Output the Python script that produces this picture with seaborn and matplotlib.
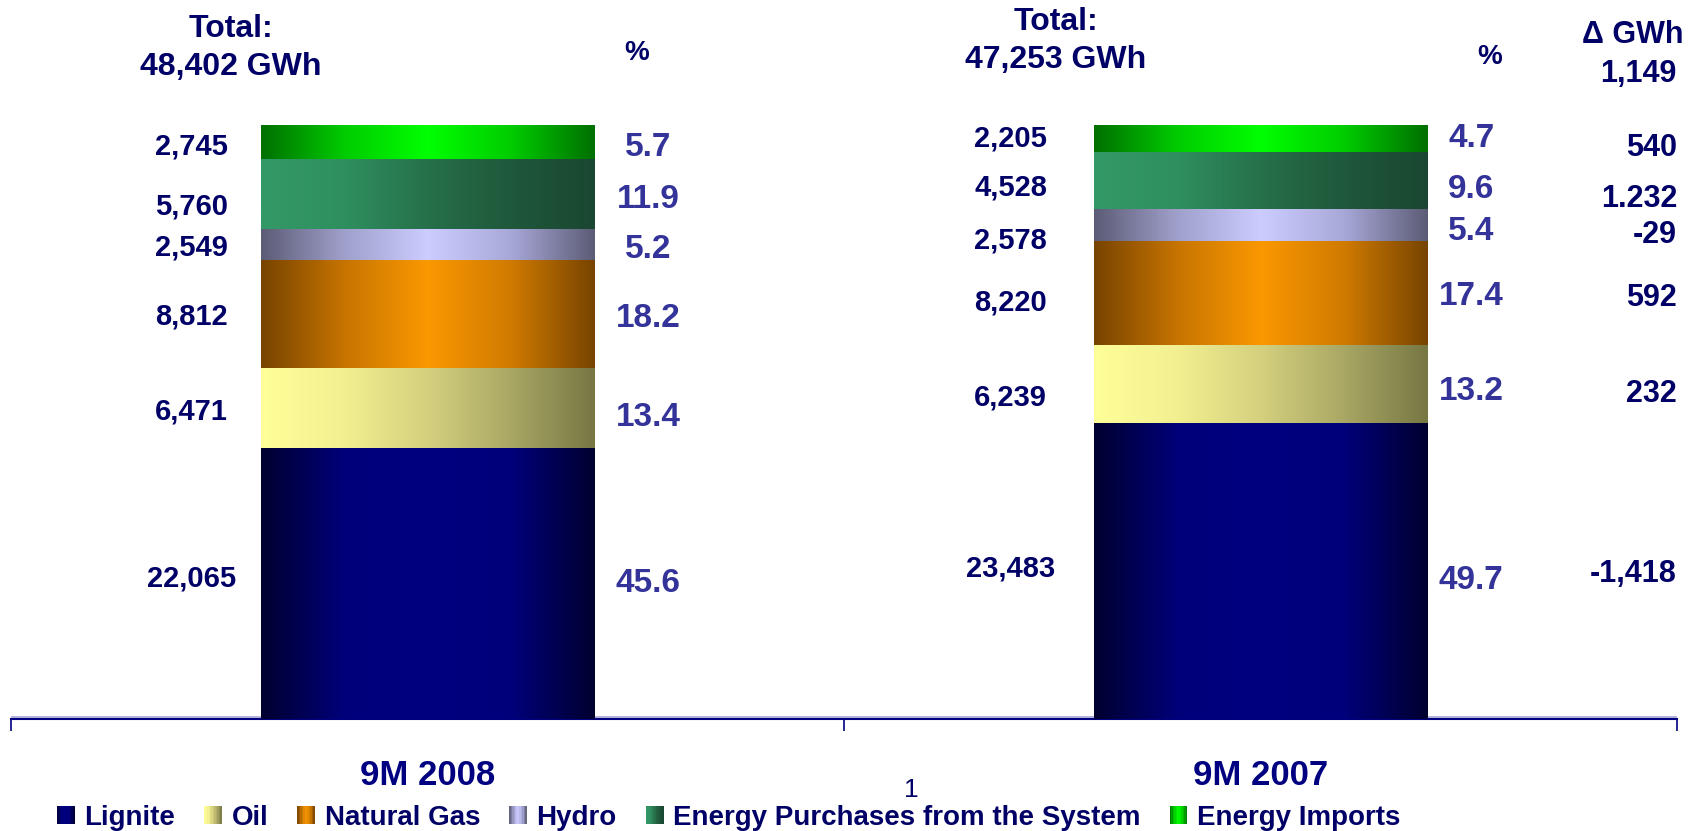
import numpy as np
import pandas as pd
import matplotlib
matplotlib.use("Agg")
import matplotlib.pyplot as plt
from matplotlib.colors import LinearSegmentedColormap
from matplotlib.legend_handler import HandlerBase
from matplotlib.patches import Rectangle, Patch
import seaborn as sns

# data
periods = ["9M 2008", "9M 2007"]
sources = ["Lignite", "Oil", "Natural Gas", "Hydro",
           "Energy Purchases from the System", "Energy Imports"]
gwh_2008 = [22065, 6471, 8812, 2549, 5760, 2745]
gwh_2007 = [23483, 6239, 8220, 2578, 4528, 2205]
pct_2008 = [45.6, 13.4, 18.2, 5.2, 11.9, 5.7]
pct_2007 = [49.7, 13.2, 17.4, 5.4, 9.6, 4.7]
delta_labels = ["-1,418", "232", "592", "-29", "1.232", "540"]

# gradient stops per source (left -> right across the bar)
grad_stops = {
    "Lignite": ["#000030", "#00007a", "#000080", "#00007a", "#000030"],
    "Oil": ["#ffff99", "#f2ef90", "#d4d07e", "#a9a764", "#777744"],
    "Natural Gas": ["#774400", "#c77400", "#fa9800", "#d07a00", "#774400"],
    "Hydro": ["#5c5c76", "#a0a0cc", "#ccccff", "#a8a8d8", "#5c5c76"],
    "Energy Purchases from the System": ["#339966", "#2f8f5f", "#26704a", "#1f583b", "#1a4731"],
    "Energy Imports": ["#007000", "#00cc00", "#00ff00", "#00cc00", "#007000"],
}
cmaps = {s: LinearSegmentedColormap.from_list(s, c) for s, c in grad_stops.items()}

# hand nudges of the label rows (in y data units, per source bottom -> top)
nudge_left = [[0.9, -0.5, -0.4, -0.4, -2.0, -0.7], [0.5, -2.2, -1.5, -2.4, -1.1, 0.0]]
nudge_pct = [[0.0, -1.5, -0.7, -0.7, -0.9, -0.9], [-1.6, -1.1, -0.5, -0.9, -1.3, 0.0]]
nudge_delta = [-0.4, -1.6, -0.7, -1.6, -2.9, -1.5]

NAVY = "#000066"
PCT_COLOR = "#333399"

sns.set_theme(style="white")
plt.rcParams["font.family"] = ["Liberation Sans", "DejaVu Sans"]
plt.rcParams["font.weight"] = "bold"

df = pd.DataFrame({
    "period": np.repeat(periods, len(sources)),
    "source": sources * 2,
    "gwh": gwh_2008 + gwh_2007,
    "pct": pct_2008 + pct_2007,
})
df["top"] = df.groupby("period")["pct"].cumsum()
df["bottom"] = df["top"] - df["pct"]
df["mid"] = (df["top"] + df["bottom"]) / 2

fig = plt.figure(figsize=(17.02, 8.31), dpi=100)
ax = fig.add_axes([11 / 1702, 112 / 831, 1666 / 1702, 594 / 831])

bar_w = 0.4
# stacked bars: draw cumulative heights from the top segment down, then paint gradients
for src in reversed(sources):
    sub = df[df["source"] == src]
    sns.barplot(data=sub, x="period", y="top", order=periods, color=grad_stops[src][2],
                width=bar_w, errorbar=None, saturation=1, ax=ax)
    cont = ax.containers[-1]
    for rect, (_, row) in zip(cont.patches, sub.set_index("period").loc[periods].iterrows()):
        x0 = rect.get_x()
        x1 = x0 + rect.get_width()
        ax.imshow(np.linspace(0, 1, 256).reshape(1, -1), cmap=cmaps[src],
                  extent=(x0, x1, row["bottom"], row["top"]), aspect="auto",
                  origin="lower", interpolation="bilinear", zorder=3)
        rect.set_visible(False)

ax.set_xlim(-0.5, 1.5)
ax.set_ylim(0, 100)
ax.set_xlabel("")
ax.set_ylabel("")
ax.set_yticks([])
for side in ["top", "right", "left"]:
    ax.spines[side].set_visible(False)
ax.spines["bottom"].set_color("#000080")
ax.spines["bottom"].set_linewidth(1.5)
ax.axhline(0.35, color="#a8a8d8", lw=1.2, zorder=1)

ax.set_xticks([0, 1])
ax.set_xticklabels(periods, fontsize=25, fontweight="bold", color="#000080")
ax.tick_params(axis="x", which="major", length=0, pad=29)
ax.set_xticks([-0.5, 0.5, 1.5], minor=True)
ax.tick_params(axis="x", which="minor", bottom=True, length=8.6, width=1.2,
               color="#000080", direction="out")

# value labels
left_off = [-0.283, -0.300]
pct_off = [0.265, 0.253]
for i, per in enumerate(periods):
    sub = df[df["period"] == per].reset_index(drop=True)
    for j, row in sub.iterrows():
        ax.text(i + left_off[i], row["mid"] + nudge_left[i][j], f"{row['gwh']:,}",
                ha="center", va="center", fontsize=21, fontweight="bold", color=NAVY)
        ax.text(i + pct_off[i], row["mid"] + nudge_pct[i][j], f"{row['pct']:.1f}",
                ha="center", va="center", fontsize=24, fontweight="bold", color=PCT_COLOR)

sub07 = df[df["period"] == periods[1]].reset_index(drop=True)
for j, row in sub07.iterrows():
    ax.text(1.5, row["mid"] + nudge_delta[j], delta_labels[j], ha="right", va="center",
            fontsize=22, fontweight="bold", color=NAVY)

# headers
totals = df.groupby("period")["gwh"].sum()
hdr = dict(ha="center", va="center", fontweight="bold", color=NAVY)
ax.text(-0.236, 116.2, "Total:", fontsize=23, **hdr)
ax.text(-0.236, 109.8, f"{totals[periods[0]]:,} GWh", fontsize=23, **hdr)
ax.text(0 + 0.251, 112.2, "%", fontsize=20, **hdr)
ax.text(1 - 0.246, 117.4, "Total:", fontsize=23, **hdr)
ax.text(1 - 0.246, 111.0, f"{totals[periods[1]]:,} GWh", fontsize=23, **hdr)
ax.text(1 + 0.275, 111.4, "%", fontsize=20, **hdr)
ax.text(1 + 0.447, 115.1, "\u0394 GWh", fontsize=22, **hdr)
ax.text(1 + 0.454, 108.6, f"{totals[periods[0]] - totals[periods[1]]:,}", fontsize=22, **hdr)

# page number
fig.text(911 / 1702, (831 - 790) / 831, "1", ha="center", va="center",
         fontsize=19, fontweight="normal", color="#000066")


class GradientHandler(HandlerBase):
    def __init__(self, cmap):
        super().__init__()
        self.cmap = cmap

    def create_artists(self, legend, orig_handle, xdescent, ydescent, width, height, fontsize, trans):
        n = 12
        out = []
        for k in range(n):
            r = Rectangle((-xdescent + k * width / n, -ydescent), width / n + 0.3, height,
                          facecolor=self.cmap((k + 0.5) / n), edgecolor="none", transform=trans)
            out.append(r)
        return out


handles = [Patch(label=s) for s in sources]
fig.legend(handles=handles, labels=sources, loc="center left",
           bbox_to_anchor=(0.0335, (831 - 818) / 831), ncol=6, frameon=False,
           handler_map={h: GradientHandler(cmaps[s]) for h, s in zip(handles, sources)},
           handlelength=0.62, handleheight=0.62, handletextpad=0.36,
           columnspacing=1.05, borderpad=0, borderaxespad=0,
           prop={"size": 20, "weight": "bold"}, labelcolor=NAVY)

fig.savefig("out.png", dpi=100)
